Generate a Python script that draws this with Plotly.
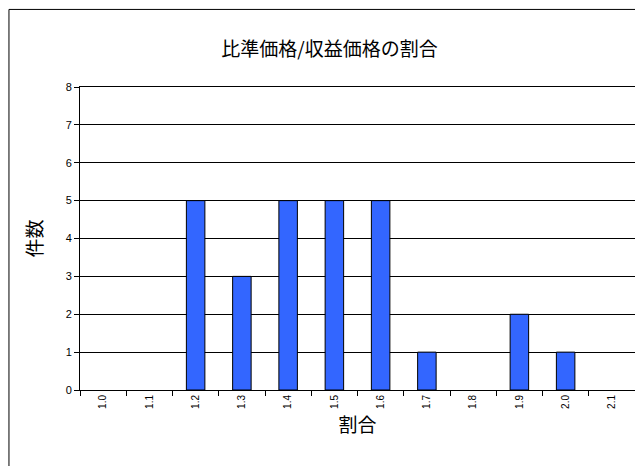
import plotly.graph_objects as go

categories = ["1.0", "1.1", "1.2", "1.3", "1.4", "1.5", "1.6", "1.7", "1.8", "1.9", "2.0", "2.1"]
counts = [0, 0, 5, 3, 5, 5, 5, 1, 0, 2, 1, 0]

font = "Noto Sans CJK JP"

fig = go.Figure()
fig.add_trace(go.Bar(x=categories, y=counts,
                     marker=dict(color="#3366FF",
                                 line=dict(color="black", width=[1 if c > 0 else 0 for c in counts]))))

fig.update_layout(
    width=643, height=466,
    paper_bgcolor="white", plot_bgcolor="white",
    margin=dict(l=72, r=16, t=79, b=84, autoexpand=False),
    bargap=0.6, showlegend=False,
    font=dict(family=font, color="black"),
    title=dict(text="比準価格/収益価格の割合", x=0.5, xanchor="center", y=0.925,
               font=dict(size=19, family=font)),
    shapes=[dict(type="rect", xref="paper", yref="paper", x0=-0.128, x1=1.026,
                 y0=-0.274, y1=1.256, line=dict(color="black", width=1))],
)
fig.update_xaxes(type="category", tickangle=-90, tickfont=dict(size=10, family="Liberation Sans"),
                 showline=True, linecolor="black", mirror=True, ticks="outside",
                 tickson="boundaries", ticklen=5, tickcolor="black", automargin=False,
                 title=dict(text="割合", font=dict(size=19, family=font), standoff=10))
fig.update_yaxes(range=[0, 8], dtick=1, showgrid=True, gridcolor="black", gridwidth=1,
                 showline=True, linecolor="black", mirror=True, ticks="outside",
                 ticklen=5, tickcolor="black", tickfont=dict(size=11, family="Liberation Sans"),
                 zeroline=False, automargin=False,
                 title=dict(text="件数", font=dict(size=19, family=font), standoff=18))

fig.write_html("out.html")
